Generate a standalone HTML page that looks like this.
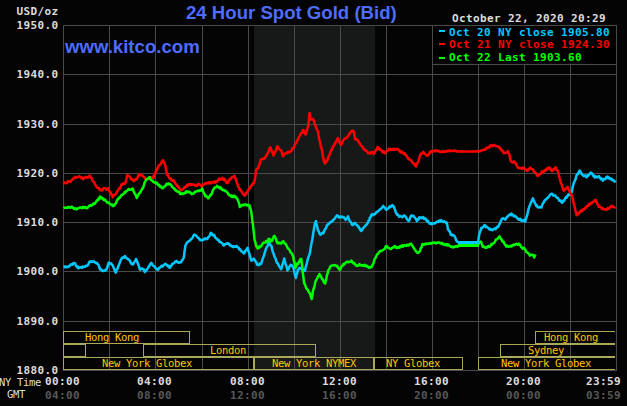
<!DOCTYPE html><html><head><meta charset="utf-8"><title>24 Hour Spot Gold (Bid)</title><style>
html,body{margin:0;padding:0;background:#040404;}
#c{position:relative;width:627px;height:406px;background:#040404;overflow:hidden;font-family:"DejaVu Sans Mono","Liberation Mono",monospace;}
#c span{position:absolute;white-space:pre;line-height:1;}
.m{font-size:11px;letter-spacing:0.38px;font-weight:bold;color:#dcdcdc;}
.g{font-size:11px;letter-spacing:0.38px;font-weight:bold;color:#585858;}
.s{font-size:10.5px;letter-spacing:-0.32px;color:#dcdcdc;}
.k{font-size:10.5px;letter-spacing:-0.32px;color:#ffc400;}
.t{font-family:"Liberation Sans",sans-serif;font-weight:bold;color:#4e6cff;}

</style></head><body><div id="c">
<svg width="627" height="406" viewBox="0 0 627 406" style="position:absolute;left:0;top:0"><rect x="254" y="25" width="121" height="345" fill="#171918" shape-rendering="crispEdges"/><g fill="#4a4a4a" shape-rendering="crispEdges"><rect x="63" y="25" width="1" height="346"/><rect x="109" y="25" width="1" height="346"/><rect x="155" y="25" width="1" height="346"/><rect x="202" y="25" width="1" height="346"/><rect x="248" y="25" width="1" height="346"/><rect x="294" y="25" width="1" height="346"/><rect x="340" y="25" width="1" height="346"/><rect x="386" y="25" width="1" height="346"/><rect x="432" y="25" width="1" height="346"/><rect x="478" y="25" width="1" height="346"/><rect x="524" y="25" width="1" height="346"/><rect x="570" y="25" width="1" height="346"/><rect x="616" y="25" width="1" height="346"/><rect x="63" y="25" width="554" height="1"/><rect x="63" y="74" width="554" height="1"/><rect x="63" y="124" width="554" height="1"/><rect x="63" y="173" width="554" height="1"/><rect x="63" y="222" width="554" height="1"/><rect x="63" y="271" width="554" height="1"/><rect x="63" y="321" width="554" height="1"/><rect x="63" y="370" width="554" height="1"/></g><rect x="432.5" y="25.5" width="184" height="39" fill="#000" stroke="#4a4a4a" shape-rendering="crispEdges"/><g fill="#a9a95c" shape-rendering="crispEdges"><rect x="63" y="331" width="127" height="1"/><rect x="63" y="343" width="127" height="1"/><rect x="63" y="331" width="1" height="13"/><rect x="189" y="331" width="1" height="13"/><rect x="63" y="344" width="23" height="1"/><rect x="63" y="356" width="23" height="1"/><rect x="63" y="344" width="1" height="13"/><rect x="85" y="344" width="1" height="13"/><rect x="143" y="344" width="173" height="1"/><rect x="143" y="356" width="173" height="1"/><rect x="143" y="344" width="1" height="13"/><rect x="315" y="344" width="1" height="13"/><rect x="63" y="357" width="191" height="1"/><rect x="63" y="369" width="191" height="1"/><rect x="63" y="357" width="1" height="13"/><rect x="253" y="357" width="1" height="13"/><rect x="254" y="357" width="120" height="1"/><rect x="254" y="369" width="120" height="1"/><rect x="254" y="357" width="1" height="13"/><rect x="373" y="357" width="1" height="13"/><rect x="374" y="357" width="89" height="1"/><rect x="374" y="369" width="89" height="1"/><rect x="374" y="357" width="1" height="13"/><rect x="462" y="357" width="1" height="13"/><rect x="478" y="357" width="137" height="1"/><rect x="478" y="369" width="137" height="1"/><rect x="478" y="357" width="1" height="13"/><rect x="500" y="344" width="115" height="1"/><rect x="500" y="356" width="115" height="1"/><rect x="500" y="344" width="1" height="13"/><rect x="535" y="331" width="80" height="1"/><rect x="535" y="343" width="80" height="1"/><rect x="535" y="331" width="1" height="13"/></g><path d="M63.5,266.6 L64.2,266.4 L65.0,267.3 L65.8,266.5 L66.5,267.3 L67.2,267.1 L68.0,266.7 L68.6,266.9 L69.3,265.7 L69.9,265.9 L70.6,264.8 L71.2,264.3 L71.9,264.5 L72.5,264.7 L73.2,263.2 L73.9,263.0 L74.5,263.2 L75.2,263.3 L76.0,265.9 L76.6,266.1 L77.3,267.5 L77.9,266.5 L78.6,268.3 L79.2,267.9 L79.9,267.4 L80.5,267.2 L81.2,267.2 L81.9,267.8 L82.5,266.6 L83.2,267.0 L83.9,267.0 L84.5,266.5 L85.2,266.7 L85.9,265.8 L86.5,265.7 L87.2,265.8 L88.0,265.1 L88.8,263.2 L89.6,261.5 L90.3,261.9 L90.9,261.6 L91.6,261.3 L92.3,262.1 L92.9,261.9 L93.6,261.1 L94.3,261.9 L94.9,262.2 L95.6,263.1 L96.3,263.1 L96.9,262.7 L97.6,264.2 L98.4,264.7 L99.2,267.0 L100.0,269.4 L100.8,269.1 L101.6,270.4 L102.4,270.4 L103.1,271.1 L103.7,271.0 L104.4,270.4 L105.1,270.6 L105.7,269.5 L106.4,269.8 L107.2,267.4 L108.0,265.0 L108.8,262.5 L109.6,263.4 L110.4,263.8 L111.2,263.4 L112.0,265.0 L112.8,265.4 L113.6,267.7 L114.3,269.2 L115.0,271.4 L115.7,272.7 L116.4,270.5 L117.1,269.2 L117.7,268.3 L118.4,265.8 L119.0,264.9 L119.7,262.9 L120.3,261.2 L121.0,259.5 L121.6,259.0 L122.2,257.6 L122.9,257.4 L123.5,257.3 L124.2,257.7 L124.8,256.0 L125.4,257.0 L126.1,257.5 L126.7,258.5 L127.4,258.7 L128.0,259.2 L128.7,259.2 L129.4,260.3 L130.1,261.1 L130.7,262.9 L131.4,263.9 L132.1,263.5 L132.8,264.5 L133.4,263.5 L134.1,262.3 L134.7,261.6 L135.4,260.7 L136.0,259.0 L136.8,260.5 L137.6,263.0 L138.4,264.8 L139.2,267.1 L140.0,269.7 L140.8,269.0 L141.6,268.5 L142.4,268.4 L143.2,269.5 L144.0,269.6 L144.8,272.0 L145.4,271.2 L146.1,270.7 L146.7,270.0 L147.4,268.7 L148.0,268.0 L148.6,266.6 L149.3,266.5 L149.9,264.6 L150.6,263.7 L151.2,262.9 L152.0,263.9 L152.8,265.3 L153.6,265.9 L154.2,266.4 L154.9,267.2 L155.5,267.7 L156.2,268.7 L156.8,268.7 L157.5,270.0 L158.2,269.6 L158.9,268.3 L159.5,267.8 L160.2,267.4 L160.9,266.8 L161.5,265.9 L162.2,266.5 L162.8,266.4 L163.5,265.2 L164.1,264.9 L164.8,264.0 L165.4,263.7 L166.1,264.5 L166.8,264.8 L167.5,266.2 L168.1,265.6 L168.8,265.8 L169.5,267.8 L170.2,267.5 L170.8,266.0 L171.5,265.6 L172.1,263.9 L172.8,263.7 L173.4,263.5 L174.0,263.0 L174.7,262.5 L175.3,261.5 L176.0,261.4 L176.6,260.9 L177.2,262.2 L177.9,262.1 L178.5,262.8 L179.2,262.4 L179.8,262.6 L180.5,262.6 L181.1,261.9 L181.8,260.8 L182.5,259.8 L183.1,258.8 L183.8,257.8 L184.6,251.0 L185.4,245.4 L186.1,244.4 L186.7,243.0 L187.4,242.2 L188.1,241.8 L188.7,241.0 L189.4,240.9 L190.1,240.5 L190.8,238.9 L191.5,238.9 L192.1,238.2 L192.8,237.3 L193.5,235.6 L194.2,234.6 L194.8,234.9 L195.5,235.2 L196.1,235.5 L196.8,236.5 L197.4,237.2 L198.0,237.9 L198.7,238.0 L199.3,239.1 L200.0,240.0 L200.6,239.6 L201.3,240.3 L201.9,240.5 L202.6,240.1 L203.3,239.8 L203.9,239.2 L204.6,238.5 L205.2,239.3 L205.9,238.4 L206.5,239.0 L207.2,239.1 L207.8,238.0 L208.5,236.8 L209.2,236.5 L210.0,235.0 L210.7,232.9 L211.4,233.2 L212.1,233.7 L212.8,235.3 L213.5,235.6 L214.2,234.9 L214.9,236.9 L215.5,238.0 L216.2,238.3 L216.9,238.7 L217.5,239.8 L218.2,240.0 L218.8,240.1 L219.5,242.0 L220.1,241.8 L220.8,241.9 L221.4,242.9 L222.2,243.1 L223.0,244.7 L223.8,245.6 L224.5,244.4 L225.1,244.2 L225.8,244.0 L226.5,243.6 L227.1,243.9 L227.8,243.1 L228.5,243.8 L229.1,243.8 L229.8,245.5 L230.5,245.1 L231.1,245.7 L231.8,246.3 L232.5,246.9 L233.2,246.2 L233.9,247.1 L234.5,246.5 L235.2,246.6 L235.9,246.7 L236.6,245.9 L237.3,247.2 L237.9,247.4 L238.6,247.7 L239.3,249.5 L239.9,249.1 L240.6,250.2 L241.2,251.2 L241.9,251.6 L242.5,251.8 L243.2,252.8 L243.8,253.5 L244.6,252.8 L245.3,250.7 L246.1,250.4 L246.8,248.8 L247.6,247.8 L248.3,250.7 L248.9,252.3 L249.6,254.5 L250.2,256.9 L250.8,259.3 L251.4,260.7 L252.2,260.2 L253.0,259.3 L253.8,258.6 L254.5,259.9 L255.1,260.6 L255.8,261.8 L256.5,262.7 L257.1,264.5 L257.8,265.1 L258.4,265.1 L259.1,264.9 L259.7,263.5 L260.4,263.6 L261.0,263.9 L261.8,261.9 L262.6,258.9 L263.4,257.0 L264.0,255.4 L264.7,252.8 L265.3,250.9 L266.0,248.6 L266.6,247.5 L267.4,246.1 L268.2,244.6 L269.0,241.8 L269.8,244.1 L270.6,245.3 L271.4,245.8 L272.2,249.7 L273.0,252.5 L273.8,254.0 L274.4,256.7 L275.1,257.4 L275.7,259.2 L276.4,261.6 L277.0,262.9 L277.7,263.1 L278.3,264.7 L279.0,266.0 L279.7,266.9 L280.3,267.9 L281.0,269.3 L281.6,267.9 L282.3,264.7 L282.9,263.4 L283.6,261.2 L284.2,258.4 L284.8,261.0 L285.5,263.6 L286.1,265.5 L286.8,266.8 L287.4,270.4 L288.1,269.3 L288.7,268.8 L289.4,266.6 L290.1,266.0 L290.7,264.9 L291.4,265.2 L292.2,265.8 L293.0,266.9 L293.8,268.7 L294.5,272.7 L295.2,275.7 L295.9,278.0 L296.5,274.9 L297.2,273.2 L297.8,269.7 L298.4,269.6 L299.1,268.3 L299.7,267.9 L300.4,268.6 L301.0,267.9 L301.7,267.7 L302.3,269.5 L303.0,269.4 L303.7,270.1 L304.3,269.3 L305.0,271.0 L305.8,266.5 L306.6,264.6 L307.4,260.7 L308.2,257.9 L309.0,255.6 L309.8,253.5 L310.6,248.2 L311.4,243.7 L312.2,240.0 L313.0,234.8 L313.8,229.8 L314.6,225.1 L315.2,222.9 L315.9,221.1 L316.5,224.0 L317.2,226.6 L317.8,230.0 L318.6,231.1 L319.4,233.3 L320.2,234.7 L320.8,234.5 L321.5,233.5 L322.1,233.4 L322.8,232.5 L323.4,233.2 L324.1,231.5 L324.7,229.6 L325.4,228.8 L326.1,228.2 L326.7,225.5 L327.4,225.3 L328.1,224.1 L328.8,223.6 L329.5,223.6 L330.1,222.3 L330.8,222.0 L331.5,221.7 L332.2,221.6 L332.9,219.9 L333.6,220.0 L334.3,219.1 L334.9,218.3 L335.6,217.2 L336.3,216.4 L337.0,215.3 L337.6,215.8 L338.3,216.1 L338.9,217.5 L339.6,217.1 L340.2,217.4 L340.9,216.6 L341.7,217.2 L342.4,216.6 L343.0,217.1 L343.7,217.3 L344.3,218.0 L345.0,218.9 L345.6,219.9 L346.4,218.4 L347.2,217.8 L348.0,216.4 L348.8,219.1 L349.6,220.8 L350.4,221.7 L351.2,222.4 L352.0,224.8 L352.8,225.0 L353.6,224.4 L354.4,223.1 L355.2,223.0 L355.8,224.0 L356.5,224.8 L357.1,225.1 L357.8,226.4 L358.4,226.4 L359.1,227.9 L359.9,228.8 L360.6,230.4 L361.3,231.0 L362.0,229.8 L362.6,229.1 L363.3,227.9 L364.0,227.3 L364.7,226.4 L365.3,226.0 L366.0,225.1 L366.7,224.3 L367.3,223.8 L368.0,222.2 L368.6,220.7 L369.3,220.3 L369.9,217.5 L370.6,217.0 L371.2,215.4 L371.9,214.2 L372.5,215.2 L373.2,215.0 L373.9,214.3 L374.5,214.2 L375.2,214.1 L375.9,212.4 L376.5,212.3 L377.2,211.6 L377.9,211.5 L378.5,210.8 L379.2,210.1 L379.9,209.3 L380.5,209.3 L381.2,208.4 L381.9,208.0 L382.5,206.8 L383.2,205.9 L383.8,206.7 L384.5,207.6 L385.1,207.8 L385.8,209.6 L386.4,209.7 L387.0,209.3 L387.7,208.8 L388.3,208.4 L389.0,207.7 L389.6,206.4 L390.3,207.2 L391.1,206.5 L391.8,205.6 L392.5,205.2 L393.1,206.3 L393.8,206.3 L394.4,208.4 L395.2,210.4 L396.0,212.9 L396.6,213.7 L397.3,214.9 L397.9,214.6 L398.6,215.9 L399.2,216.8 L399.8,216.2 L400.5,216.1 L401.1,216.4 L401.8,216.9 L402.4,217.2 L403.2,216.2 L404.0,215.4 L404.8,215.6 L405.6,216.8 L406.4,218.0 L407.1,219.6 L407.8,219.7 L408.4,220.9 L409.1,220.8 L409.8,218.8 L410.5,217.0 L411.2,215.5 L412.0,215.8 L412.8,216.0 L413.6,215.7 L414.2,216.9 L414.9,217.7 L415.5,218.6 L416.2,219.0 L416.8,221.1 L417.4,219.4 L418.1,220.0 L418.7,219.3 L419.4,217.2 L420.0,217.2 L420.6,217.9 L421.3,218.2 L421.9,217.4 L422.6,217.2 L423.2,217.1 L423.8,218.8 L424.5,218.1 L425.1,219.2 L425.8,218.9 L426.4,220.0 L427.0,221.4 L427.7,220.7 L428.3,222.4 L429.0,222.6 L429.6,223.8 L430.3,223.7 L431.1,223.1 L431.8,224.3 L432.5,223.8 L433.3,223.2 L434.0,223.3 L434.6,223.6 L435.3,223.1 L435.9,222.5 L436.6,221.8 L437.2,221.7 L437.9,221.4 L438.5,222.0 L439.2,220.5 L439.9,221.4 L440.5,221.4 L441.2,220.0 L441.9,221.5 L442.6,221.4 L443.3,222.0 L444.0,221.2 L444.7,221.6 L445.4,221.9 L446.1,223.1 L446.8,222.6 L447.4,225.7 L447.9,229.3 L448.6,230.2 L449.4,231.1 L450.1,232.4 L450.8,234.7 L451.4,234.2 L452.1,235.5 L452.7,234.8 L453.4,235.1 L454.0,235.8 L454.8,236.7 L455.6,238.5 L456.4,240.8 L457.2,241.4 L458.0,242.0 L458.8,242.2 L459.5,242.2 L460.2,242.2 L460.9,242.2 L461.6,242.2 L462.4,242.2 L463.1,242.2 L463.8,242.2 L464.5,242.2 L465.2,242.2 L465.9,242.2 L466.6,242.2 L467.3,242.2 L468.0,242.2 L468.8,242.2 L469.5,242.2 L470.2,242.2 L470.9,242.2 L471.6,242.2 L472.3,242.2 L473.0,242.2 L473.7,242.2 L474.4,242.2 L475.2,242.2 L475.9,242.2 L476.6,242.2 L477.3,242.2 L478.0,242.4 L478.6,238.5 L479.3,234.1 L479.9,231.9 L480.6,230.6 L481.2,227.9 L481.8,228.3 L482.5,227.2 L483.1,227.1 L483.8,226.3 L484.4,225.1 L485.0,225.2 L485.7,227.0 L486.3,226.2 L487.0,227.3 L487.6,227.5 L488.3,227.8 L489.0,228.9 L489.7,229.6 L490.3,228.8 L491.0,229.8 L491.7,229.5 L492.4,230.3 L493.0,229.7 L493.7,229.0 L494.3,228.7 L495.0,228.5 L495.6,229.2 L496.3,227.9 L496.9,226.8 L497.6,227.3 L498.3,226.7 L498.9,225.2 L499.6,224.0 L500.4,222.2 L501.2,220.2 L502.0,218.7 L502.6,218.3 L503.3,218.6 L503.9,218.6 L504.6,219.1 L505.2,219.6 L505.8,218.8 L506.5,217.6 L507.1,216.9 L507.8,216.5 L508.4,215.6 L509.0,215.2 L509.7,214.5 L510.3,214.5 L511.0,215.3 L511.6,213.6 L512.3,214.7 L513.0,215.3 L513.7,216.2 L514.3,215.6 L515.0,216.1 L515.7,216.5 L516.4,217.2 L517.1,217.7 L517.8,219.0 L518.5,219.2 L519.1,219.7 L519.8,218.7 L520.5,219.1 L521.2,220.6 L521.9,221.0 L522.5,220.5 L523.2,220.7 L523.9,219.9 L524.5,220.6 L525.2,221.6 L526.0,218.7 L526.8,216.1 L527.6,213.6 L528.2,210.3 L528.9,208.0 L529.5,206.0 L530.2,204.5 L530.8,202.7 L531.5,201.7 L532.2,199.9 L532.9,198.3 L533.6,200.2 L534.2,201.4 L534.9,203.2 L535.6,204.1 L536.2,205.8 L536.9,205.5 L537.5,207.2 L538.2,207.4 L538.8,207.4 L539.5,207.0 L540.1,207.1 L540.8,207.5 L541.5,207.5 L542.2,205.0 L543.0,203.3 L543.7,202.4 L544.4,200.9 L545.0,200.1 L545.7,199.4 L546.3,199.5 L547.0,198.1 L547.6,198.1 L548.3,197.1 L549.0,196.7 L549.8,195.0 L550.5,194.2 L551.2,193.9 L551.9,193.8 L552.6,194.2 L553.3,195.6 L554.0,195.5 L554.7,195.4 L555.3,195.5 L556.0,196.8 L556.7,197.6 L557.3,197.7 L558.0,198.0 L558.7,199.4 L559.3,200.6 L560.0,200.2 L560.7,200.7 L561.3,201.9 L562.0,202.8 L562.6,202.3 L563.3,200.6 L563.9,200.7 L564.6,199.7 L565.2,198.4 L565.8,197.2 L566.5,197.8 L567.1,196.0 L567.8,196.1 L568.4,194.5 L569.2,194.3 L570.0,195.0 L570.8,194.1 L571.6,192.2 L572.4,188.5 L573.2,185.1 L573.8,183.2 L574.5,181.6 L575.1,180.1 L575.8,178.6 L576.4,175.4 L577.0,174.9 L577.7,173.6 L578.3,173.9 L579.0,171.6 L579.6,170.5 L580.2,171.2 L580.9,172.4 L581.5,173.9 L582.2,174.6 L582.8,175.1 L583.5,175.8 L584.1,176.1 L584.8,175.5 L585.5,175.6 L586.1,177.1 L586.8,177.2 L587.5,175.4 L588.1,175.8 L588.8,174.8 L589.5,174.1 L590.1,173.4 L590.8,172.6 L591.5,172.9 L592.1,174.0 L592.8,174.7 L593.5,176.3 L594.1,175.6 L594.8,177.5 L595.5,176.3 L596.1,176.6 L596.8,177.3 L597.5,177.3 L598.1,176.7 L598.8,176.1 L599.5,177.3 L600.1,177.7 L600.8,179.1 L601.5,178.4 L602.1,179.2 L602.8,180.6 L603.5,178.9 L604.2,179.1 L604.9,179.3 L605.5,178.9 L606.2,177.3 L606.9,176.9 L607.6,176.6 L608.3,178.3 L609.0,177.5 L609.7,178.6 L610.3,179.2 L611.0,178.6 L611.7,178.8 L612.4,180.2 L613.0,180.3 L613.7,180.3 L614.3,181.6 L615.0,181.5 L615.6,182.4" fill="none" stroke="#00c8ff" stroke-width="2.5" stroke-linejoin="round" stroke-linecap="butt"/><path d="M63.5,182.9 L64.2,182.3 L65.0,183.3 L65.8,183.3 L66.5,182.6 L67.2,182.9 L68.0,181.2 L68.7,181.3 L69.3,181.4 L70.0,181.9 L70.7,181.7 L71.3,180.5 L72.0,180.0 L72.8,179.3 L73.6,178.5 L74.4,178.2 L75.1,176.8 L75.8,177.7 L76.5,177.4 L77.1,177.4 L77.8,177.2 L78.5,176.7 L79.2,176.1 L79.9,176.5 L80.5,177.0 L81.2,178.1 L81.9,177.3 L82.5,177.9 L83.2,179.2 L83.9,178.1 L84.6,177.5 L85.3,177.1 L86.0,177.6 L86.8,176.9 L87.5,177.6 L88.2,177.2 L88.9,177.0 L89.6,175.5 L90.4,176.5 L91.2,177.7 L92.0,179.6 L92.7,181.0 L93.4,181.6 L94.1,182.3 L94.7,183.6 L95.4,184.9 L96.1,186.1 L96.8,187.2 L97.5,187.9 L98.2,188.2 L98.9,187.9 L99.5,189.6 L100.2,189.3 L100.9,190.3 L101.6,190.6 L102.4,190.4 L103.2,188.7 L104.0,188.0 L104.8,188.3 L105.6,188.4 L106.4,189.8 L107.2,188.9 L108.0,188.1 L108.7,189.4 L109.4,191.5 L110.1,191.8 L110.7,192.5 L111.4,194.6 L112.1,195.5 L112.8,197.2 L113.5,195.1 L114.2,195.0 L114.9,194.9 L115.5,194.2 L116.2,193.6 L116.9,191.6 L117.6,191.3 L118.3,189.8 L118.9,188.7 L119.6,188.8 L120.3,186.9 L120.9,186.3 L121.6,184.2 L122.3,184.7 L122.9,183.8 L123.6,183.2 L124.3,183.8 L124.9,183.8 L125.6,182.2 L126.4,179.0 L127.2,175.0 L127.8,175.0 L128.5,175.9 L129.1,176.1 L129.8,176.9 L130.4,177.6 L131.0,178.8 L131.7,179.5 L132.3,179.4 L133.0,179.8 L133.6,180.9 L134.2,181.0 L134.9,179.7 L135.5,179.5 L136.2,178.8 L136.8,179.3 L137.5,177.8 L138.2,175.9 L138.8,174.8 L139.5,174.1 L140.2,174.8 L141.0,175.4 L141.7,174.9 L142.5,175.4 L143.2,176.7 L143.8,176.9 L144.5,177.3 L145.1,178.0 L145.8,179.7 L146.4,179.3 L147.0,179.4 L147.7,178.7 L148.3,178.5 L149.0,178.9 L149.6,178.8 L150.3,177.6 L150.9,177.2 L151.6,178.0 L152.3,177.0 L152.9,176.5 L153.6,177.8 L154.4,174.9 L155.2,173.4 L156.0,170.6 L156.8,170.2 L157.5,168.3 L158.2,166.7 L159.0,165.2 L159.7,165.1 L160.3,164.4 L161.0,163.9 L161.7,161.6 L162.3,161.5 L163.0,160.2 L163.8,162.3 L164.6,163.6 L165.4,165.7 L166.2,170.0 L167.0,174.7 L167.6,174.3 L168.3,175.9 L168.9,177.4 L169.6,178.6 L170.2,178.3 L170.9,178.6 L171.5,180.3 L172.2,180.8 L172.9,180.4 L173.5,180.1 L174.2,181.9 L174.8,182.0 L175.5,183.8 L176.1,184.3 L176.8,185.6 L177.4,185.5 L178.1,187.3 L178.7,187.2 L179.4,188.2 L180.1,189.8 L180.7,190.5 L181.4,190.3 L182.0,189.7 L182.7,189.4 L183.3,188.9 L184.0,188.1 L184.6,187.0 L185.2,186.7 L185.9,186.9 L186.5,186.6 L187.2,184.7 L187.8,185.0 L188.5,185.2 L189.2,184.0 L189.9,185.2 L190.5,184.0 L191.2,184.7 L191.9,184.6 L192.6,184.6 L193.3,184.4 L193.9,184.8 L194.6,185.3 L195.3,185.3 L195.9,186.0 L196.6,185.9 L197.4,185.2 L198.2,183.8 L199.0,184.1 L199.8,184.6 L200.6,184.9 L201.4,186.4 L202.1,186.1 L202.8,185.2 L203.5,184.5 L204.1,184.6 L204.8,183.7 L205.5,183.3 L206.2,183.5 L206.9,182.8 L207.6,183.3 L208.3,183.3 L208.9,182.4 L209.6,183.2 L210.3,182.2 L211.0,183.2 L211.7,183.1 L212.4,182.6 L213.1,181.7 L213.7,182.3 L214.4,182.0 L215.1,182.8 L215.8,181.4 L216.4,182.0 L217.1,181.6 L217.7,180.6 L218.4,180.2 L219.0,178.6 L219.6,179.8 L220.3,178.8 L220.9,179.5 L221.6,179.3 L222.2,178.0 L223.0,179.3 L223.8,179.9 L224.6,178.9 L225.4,180.6 L226.2,182.5 L227.0,182.8 L227.6,183.0 L228.3,181.1 L228.9,181.1 L229.6,179.1 L230.2,178.8 L230.9,179.1 L231.5,177.5 L232.2,177.2 L232.9,177.2 L233.5,176.5 L234.2,175.7 L235.0,177.5 L235.8,179.1 L236.6,181.9 L237.4,183.9 L238.2,186.6 L239.0,187.9 L239.6,189.7 L240.3,189.4 L240.9,190.8 L241.6,191.8 L242.2,192.2 L243.0,194.1 L243.8,194.6 L244.6,195.7 L245.2,195.3 L245.9,193.0 L246.5,193.5 L247.2,192.0 L247.8,190.6 L248.4,190.3 L249.1,188.5 L249.7,188.7 L250.4,187.1 L251.0,185.8 L251.7,185.6 L252.4,184.3 L253.1,183.1 L253.8,183.2 L254.5,181.3 L255.3,176.5 L256.2,169.6 L257.0,169.1 L257.8,168.5 L258.6,166.7 L259.4,164.7 L260.2,162.0 L261.0,159.4 L261.7,159.1 L262.3,158.8 L263.0,159.2 L263.7,158.5 L264.3,158.2 L265.0,158.4 L265.6,156.3 L266.3,155.4 L266.9,155.2 L267.6,153.2 L268.2,152.2 L268.9,150.9 L269.6,148.6 L270.3,147.2 L270.9,148.6 L271.6,150.7 L272.2,152.3 L272.9,153.3 L273.5,155.6 L274.2,153.9 L274.8,152.0 L275.5,151.8 L276.2,149.3 L276.8,147.8 L277.5,146.3 L278.2,147.9 L278.9,149.0 L279.6,149.6 L280.3,149.7 L281.0,150.2 L281.7,151.7 L282.3,154.6 L283.0,156.3 L283.7,155.1 L284.4,154.7 L285.1,153.5 L285.8,153.4 L286.5,153.0 L287.2,152.2 L287.9,153.1 L288.5,151.7 L289.2,152.4 L289.9,152.1 L290.6,151.8 L291.3,150.4 L291.9,150.5 L292.6,148.2 L293.3,148.0 L293.9,147.6 L294.6,145.2 L295.2,144.0 L295.9,143.4 L296.5,142.0 L297.2,140.9 L297.8,139.9 L298.6,137.5 L299.4,136.4 L300.2,135.1 L300.9,133.3 L301.6,133.2 L302.3,131.7 L303.0,130.1 L303.6,130.2 L304.2,132.8 L304.9,133.8 L305.5,134.5 L306.2,133.0 L306.9,130.5 L307.5,128.2 L308.2,126.0 L308.9,119.8 L309.5,113.1 L310.3,119.1 L311.0,119.6 L311.6,119.3 L312.3,119.4 L313.0,118.9 L313.8,120.6 L314.6,123.5 L315.4,125.7 L316.2,128.1 L317.0,129.6 L317.8,131.0 L318.6,135.6 L319.4,140.1 L320.2,142.9 L321.0,147.2 L321.8,149.0 L322.6,154.2 L323.4,159.0 L324.2,161.5 L325.0,163.6 L325.8,162.4 L326.6,160.8 L327.4,160.8 L328.0,158.2 L328.7,156.3 L329.3,155.6 L330.0,153.4 L330.6,151.7 L331.2,150.4 L331.9,149.6 L332.5,147.5 L333.2,146.8 L333.8,145.3 L334.5,144.5 L335.1,142.8 L335.8,142.2 L336.5,140.8 L337.1,139.4 L337.8,138.1 L338.4,140.2 L339.1,140.8 L339.7,143.6 L340.4,143.8 L341.0,145.0 L341.8,142.8 L342.6,141.7 L343.4,140.2 L344.1,139.2 L344.9,138.4 L345.6,137.9 L346.4,138.3 L347.0,137.4 L347.7,136.7 L348.3,136.0 L349.0,134.1 L349.6,134.1 L350.4,132.4 L351.2,131.8 L352.0,130.5 L352.7,131.4 L353.3,130.9 L354.0,133.0 L354.6,136.3 L355.2,139.5 L355.9,138.7 L356.5,139.4 L357.2,139.8 L357.9,140.2 L358.5,142.0 L359.2,142.5 L359.8,143.3 L360.5,144.8 L361.1,145.6 L361.8,146.1 L362.4,147.0 L363.0,147.6 L363.7,149.3 L364.3,149.0 L365.0,149.9 L365.6,150.7 L366.2,150.6 L366.9,151.5 L367.5,152.1 L368.2,153.3 L368.8,153.3 L369.4,152.9 L370.1,153.6 L370.7,152.5 L371.4,152.8 L372.0,152.1 L372.8,152.2 L373.6,153.9 L374.3,152.8 L374.9,152.3 L375.6,150.6 L376.3,150.1 L376.9,148.7 L377.6,147.1 L378.2,148.7 L378.9,148.0 L379.5,149.7 L380.2,149.2 L380.8,149.5 L381.5,150.3 L382.1,151.7 L382.8,152.5 L383.5,151.4 L384.1,152.7 L384.8,153.2 L385.5,153.0 L386.1,151.4 L386.8,151.2 L387.5,150.3 L388.1,150.4 L388.8,148.8 L389.5,150.0 L390.1,149.0 L390.8,149.0 L391.5,149.9 L392.1,149.6 L392.8,149.1 L393.5,149.8 L394.1,148.7 L394.8,149.7 L395.5,149.3 L396.1,149.3 L396.8,148.9 L397.5,149.0 L398.1,149.6 L398.8,150.1 L399.5,151.5 L400.1,150.7 L400.8,152.5 L401.5,151.4 L402.1,152.0 L402.8,152.3 L403.5,153.6 L404.1,153.2 L404.8,153.3 L405.4,155.0 L406.1,154.9 L406.7,156.1 L407.4,157.2 L408.0,158.4 L408.7,159.0 L409.3,159.4 L410.0,159.5 L410.7,160.1 L411.3,160.4 L412.0,162.0 L412.7,162.6 L413.3,163.5 L414.0,163.4 L414.7,164.6 L415.3,165.9 L416.0,166.4 L416.8,164.0 L417.6,162.8 L418.4,161.8 L419.2,158.4 L420.0,155.9 L420.8,153.7 L421.6,153.8 L422.4,153.5 L423.2,151.8 L423.9,152.5 L424.5,153.2 L425.2,154.0 L425.9,154.9 L426.5,154.9 L427.2,155.8 L427.8,154.8 L428.5,155.2 L429.1,153.9 L429.8,152.1 L430.4,152.6 L431.1,150.9 L431.8,151.1 L432.5,151.7 L433.2,151.1 L433.9,151.1 L434.6,150.7 L435.3,150.5 L435.9,151.3 L436.6,150.5 L437.3,150.8 L438.0,151.2 L438.7,150.7 L439.4,151.4 L440.1,152.1 L440.7,152.0 L441.4,151.8 L442.1,152.0 L442.8,151.8 L443.5,151.2 L444.2,151.8 L444.9,151.3 L445.5,151.7 L446.2,151.8 L446.9,150.9 L447.6,151.0 L448.3,151.2 L449.0,150.6 L449.7,150.3 L450.4,151.0 L451.2,151.2 L451.9,150.9 L452.6,150.8 L453.3,150.9 L454.0,150.6 L454.6,150.7 L455.3,150.7 L455.9,150.7 L456.6,151.4 L457.2,151.4 L457.9,151.4 L458.6,151.4 L459.3,151.4 L460.0,151.4 L460.7,151.4 L461.4,151.4 L462.1,151.4 L462.7,151.4 L463.4,151.4 L464.1,151.4 L464.8,151.4 L465.5,151.4 L466.2,151.4 L466.9,151.4 L467.6,151.4 L468.3,151.4 L469.0,151.4 L469.7,151.4 L470.4,151.4 L471.1,151.4 L471.8,151.4 L472.5,151.4 L473.1,151.4 L473.8,151.4 L474.5,151.4 L475.2,151.4 L475.9,151.4 L476.6,151.4 L477.3,151.4 L478.0,150.8 L478.7,151.1 L479.4,151.5 L480.1,151.3 L480.7,151.0 L481.4,150.2 L482.1,150.3 L482.8,150.2 L483.5,150.1 L484.1,149.5 L484.8,149.5 L485.5,149.6 L486.1,148.0 L486.8,148.4 L487.5,148.2 L488.1,147.2 L488.8,147.0 L489.5,147.4 L490.1,145.5 L490.8,145.9 L491.4,145.2 L492.1,146.1 L492.7,146.2 L493.4,145.4 L494.0,144.7 L494.7,145.6 L495.4,145.7 L496.1,146.2 L496.7,146.1 L497.4,146.5 L498.1,146.9 L498.8,146.6 L499.4,147.3 L500.1,148.9 L500.7,148.5 L501.4,150.1 L502.0,150.4 L502.6,151.7 L503.3,151.3 L503.9,153.3 L504.6,152.9 L505.2,153.1 L506.0,152.8 L506.8,152.4 L507.6,151.1 L508.2,152.7 L508.9,153.6 L509.5,154.9 L510.1,158.0 L510.8,161.4 L511.5,161.4 L512.1,162.2 L512.8,162.5 L513.5,161.8 L514.1,161.4 L514.8,162.3 L515.6,163.3 L516.4,164.7 L517.2,166.3 L517.9,167.6 L518.5,167.9 L519.2,167.9 L519.9,167.9 L520.5,168.3 L521.2,168.1 L522.0,168.9 L522.8,167.5 L523.6,167.6 L524.2,168.6 L524.9,169.3 L525.5,169.4 L526.2,169.9 L526.8,171.0 L527.4,169.7 L528.1,170.3 L528.7,168.9 L529.4,169.1 L530.0,167.6 L530.6,168.3 L531.3,168.6 L531.9,169.3 L532.6,169.4 L533.2,169.6 L534.0,171.7 L534.7,171.9 L535.5,172.8 L536.2,173.8 L537.0,175.0 L537.7,175.9 L538.4,175.6 L539.1,174.9 L539.9,173.8 L540.6,174.0 L541.3,173.2 L542.0,171.3 L542.7,172.2 L543.3,171.9 L544.0,171.4 L544.7,170.0 L545.3,170.8 L546.0,170.1 L546.6,168.7 L547.3,168.2 L547.9,169.3 L548.6,168.4 L549.2,167.3 L550.0,168.2 L550.8,169.5 L551.6,170.8 L552.3,171.1 L552.9,169.8 L553.6,168.9 L554.3,169.5 L554.9,168.8 L555.6,167.2 L556.4,169.5 L557.2,170.2 L558.0,171.7 L558.8,174.7 L559.6,178.2 L560.4,181.3 L561.0,183.3 L561.7,184.2 L562.3,186.9 L563.0,188.5 L563.6,190.8 L564.3,189.8 L564.9,190.0 L565.6,189.0 L566.3,188.1 L566.9,187.6 L567.6,186.9 L568.4,189.3 L569.2,190.3 L570.0,192.7 L570.8,193.6 L571.6,195.5 L572.4,196.8 L573.2,200.6 L574.0,204.8 L574.8,207.2 L575.4,210.9 L576.1,212.7 L576.7,215.3 L577.4,214.7 L578.2,214.1 L578.9,212.6 L579.6,211.9 L580.3,212.3 L580.9,210.5 L581.6,211.0 L582.3,210.6 L582.9,209.2 L583.6,209.8 L584.3,209.2 L584.9,209.0 L585.6,207.3 L586.3,207.7 L586.9,206.3 L587.6,205.6 L588.3,205.8 L589.0,203.9 L589.7,204.6 L590.3,204.0 L591.0,203.1 L591.7,203.4 L592.4,202.2 L593.0,201.9 L593.7,201.5 L594.3,201.4 L595.0,200.0 L595.6,199.9 L596.2,201.2 L596.9,202.6 L597.5,204.4 L598.2,204.8 L598.8,206.9 L599.4,206.6 L600.1,207.0 L600.7,207.0 L601.4,207.7 L602.0,208.8 L602.6,208.6 L603.3,209.2 L603.9,208.9 L604.6,209.2 L605.2,209.6 L605.9,209.7 L606.5,209.5 L607.2,209.4 L607.9,207.9 L608.5,208.7 L609.2,208.6 L609.8,207.8 L610.5,206.6 L611.1,206.7 L611.8,205.9 L612.4,205.9 L613.0,207.2 L613.7,206.9 L614.3,207.1 L615.0,207.5 L615.6,207.2" fill="none" stroke="#ff0000" stroke-width="2.5" stroke-linejoin="round" stroke-linecap="butt"/><path d="M63.5,208.3 L64.2,207.8 L64.9,207.7 L65.6,207.7 L66.3,207.8 L67.0,207.6 L67.7,207.7 L68.4,206.9 L69.1,207.6 L69.8,207.3 L70.5,207.7 L71.2,206.7 L71.9,207.0 L72.6,207.0 L73.3,208.3 L74.0,208.8 L74.7,208.5 L75.4,208.3 L76.1,209.2 L76.8,209.4 L77.5,208.8 L78.1,208.1 L78.8,207.9 L79.5,207.9 L80.1,207.5 L80.8,207.5 L81.5,207.8 L82.2,208.3 L83.0,206.9 L83.7,207.7 L84.4,206.9 L85.1,207.0 L85.8,208.1 L86.6,207.7 L87.3,208.3 L88.0,207.5 L88.8,206.0 L89.6,205.8 L90.4,205.3 L91.1,205.7 L91.8,205.5 L92.5,204.5 L93.1,204.1 L93.8,203.4 L94.5,204.1 L95.2,203.1 L95.9,202.1 L96.6,201.0 L97.3,200.1 L97.9,200.2 L98.6,198.4 L99.3,198.9 L100.0,196.5 L100.7,198.2 L101.3,197.4 L102.0,197.6 L102.7,199.2 L103.3,198.8 L104.0,200.0 L104.7,199.6 L105.4,199.9 L106.1,201.5 L106.8,201.9 L107.5,202.7 L108.2,203.0 L108.9,202.4 L109.6,203.8 L110.3,204.3 L111.0,204.2 L111.7,205.3 L112.3,204.6 L113.0,206.1 L113.7,206.0 L114.4,205.2 L115.0,203.9 L115.7,203.7 L116.3,202.7 L117.0,200.2 L117.6,199.3 L118.3,199.3 L119.0,197.6 L119.7,198.0 L120.4,196.7 L121.2,195.3 L121.9,195.1 L122.6,194.7 L123.3,193.8 L124.0,193.5 L124.7,192.1 L125.4,192.5 L126.1,191.3 L126.7,191.1 L127.4,190.6 L128.1,189.6 L128.8,189.0 L129.5,189.7 L130.1,189.9 L130.8,189.7 L131.5,189.3 L132.1,188.9 L132.8,188.5 L133.5,191.3 L134.1,192.2 L134.8,193.7 L135.5,194.3 L136.1,196.0 L136.8,198.0 L137.5,196.7 L138.2,195.3 L138.9,193.8 L139.5,193.0 L140.2,192.7 L140.9,190.8 L141.6,190.3 L142.3,188.7 L143.0,187.7 L143.7,186.0 L144.3,183.7 L145.0,181.8 L145.7,180.7 L146.4,179.5 L147.2,178.9 L148.0,178.5 L148.8,177.8 L149.5,177.1 L150.1,179.1 L150.8,179.7 L151.5,180.5 L152.1,180.6 L152.8,180.8 L153.4,182.1 L154.1,182.3 L154.7,182.5 L155.4,183.1 L156.0,182.6 L156.8,182.7 L157.5,184.1 L158.2,185.1 L159.0,184.7 L159.7,186.1 L160.3,187.0 L161.0,186.4 L161.7,187.5 L162.3,188.2 L163.0,188.3 L163.6,187.1 L164.3,186.4 L164.9,186.4 L165.6,185.7 L166.2,184.3 L166.9,183.6 L167.5,184.6 L168.2,184.4 L168.9,183.4 L169.5,183.9 L170.2,184.2 L170.8,185.2 L171.5,185.6 L172.1,186.4 L172.8,187.6 L173.4,187.9 L174.1,188.4 L174.7,189.0 L175.4,190.3 L176.1,190.3 L176.7,191.2 L177.4,191.4 L178.1,192.0 L178.7,191.8 L179.4,192.1 L180.1,194.0 L180.7,193.4 L181.4,193.4 L182.0,194.1 L182.7,194.1 L183.3,193.0 L184.0,193.5 L184.6,193.0 L185.2,192.9 L185.9,191.7 L186.5,191.3 L187.2,192.5 L187.8,191.9 L188.5,191.6 L189.1,192.1 L189.8,192.0 L190.5,193.2 L191.1,193.0 L191.8,194.2 L192.5,193.7 L193.2,193.6 L193.9,193.6 L194.5,192.2 L195.2,191.6 L195.9,191.7 L196.6,191.4 L197.3,190.9 L198.0,190.5 L198.7,191.0 L199.4,191.1 L200.1,190.1 L200.8,190.6 L201.5,190.2 L202.2,188.5 L203.0,191.2 L203.8,192.8 L204.6,194.2 L205.3,196.1 L205.9,195.5 L206.6,196.5 L207.3,197.2 L207.9,198.2 L208.6,198.3 L209.2,196.9 L209.9,196.0 L210.5,194.6 L211.2,194.9 L211.8,194.0 L212.4,191.5 L213.1,189.9 L213.7,189.0 L214.4,187.8 L215.0,187.4 L215.6,187.4 L216.3,187.2 L216.9,185.9 L217.6,187.0 L218.2,186.8 L218.9,187.2 L219.5,188.2 L220.2,187.1 L220.9,187.7 L221.5,189.2 L222.2,189.9 L222.9,189.9 L223.5,189.7 L224.2,190.5 L224.9,191.2 L225.5,190.6 L226.2,191.3 L226.8,192.0 L227.5,192.6 L228.1,194.0 L228.8,194.3 L229.4,195.2 L230.0,195.2 L230.7,196.3 L231.3,195.5 L232.0,196.8 L232.6,196.2 L233.2,195.8 L233.9,197.1 L234.5,195.9 L235.2,196.9 L235.8,196.7 L236.6,198.4 L237.4,198.9 L238.2,201.1 L239.0,203.1 L239.8,207.0 L240.4,206.5 L241.1,205.9 L241.7,205.3 L242.4,204.8 L243.0,205.2 L243.7,204.7 L244.3,205.1 L245.0,204.4 L245.7,204.6 L246.3,204.4 L247.0,205.5 L247.6,205.4 L248.2,204.9 L248.9,206.2 L249.5,205.4 L250.1,208.0 L250.8,209.9 L251.4,212.4 L252.2,219.7 L253.0,225.3 L253.8,232.3 L254.6,240.0 L255.4,242.4 L256.2,246.0 L257.0,247.4 L257.7,248.5 L258.3,246.8 L259.0,247.8 L259.7,247.2 L260.3,246.2 L261.0,246.4 L261.6,245.2 L262.3,244.2 L262.9,243.2 L263.6,242.6 L264.2,242.7 L264.8,242.6 L265.5,242.5 L266.1,241.1 L266.8,241.3 L267.4,242.2 L268.2,239.3 L269.0,238.8 L269.8,239.2 L270.6,241.5 L271.4,241.1 L272.0,241.1 L272.7,239.1 L273.3,237.5 L274.0,236.0 L274.6,236.0 L275.4,237.8 L276.2,239.6 L277.0,242.3 L277.6,243.3 L278.3,242.4 L278.9,243.2 L279.6,242.7 L280.2,243.0 L280.8,243.6 L281.5,243.2 L282.1,242.1 L282.8,241.5 L283.4,241.2 L284.0,242.8 L284.7,243.4 L285.3,243.8 L286.0,244.4 L286.6,245.8 L287.2,247.1 L287.9,248.3 L288.5,249.1 L289.2,249.6 L289.8,250.5 L290.6,252.4 L291.4,252.8 L292.2,254.2 L293.0,256.0 L293.8,260.1 L294.6,263.1 L295.4,267.7 L296.0,266.8 L296.7,265.3 L297.3,263.5 L298.0,264.0 L298.6,262.4 L299.3,262.0 L300.0,260.0 L300.6,258.9 L301.3,258.9 L302.0,265.0 L302.6,271.5 L303.4,277.4 L304.2,283.4 L305.0,284.3 L305.8,287.0 L306.6,288.7 L307.2,289.6 L307.9,289.8 L308.5,291.5 L309.2,292.5 L309.8,293.4 L310.4,294.6 L311.1,297.4 L311.7,299.0 L312.4,295.6 L313.0,290.5 L313.8,288.6 L314.6,285.5 L315.4,281.6 L316.1,280.4 L316.7,279.2 L317.4,278.1 L318.1,276.0 L318.7,276.3 L319.4,274.0 L320.0,275.0 L320.7,275.9 L321.3,277.2 L322.0,279.2 L322.6,279.0 L323.2,280.3 L323.9,282.4 L324.5,282.8 L325.1,283.6 L325.7,281.4 L326.4,278.3 L327.0,275.0 L327.7,273.3 L328.3,270.3 L329.0,269.5 L329.6,268.4 L330.2,266.6 L330.9,265.9 L331.5,265.7 L332.2,265.7 L333.0,265.3 L333.7,265.1 L334.4,265.5 L335.1,265.1 L335.9,265.8 L336.6,266.3 L337.2,265.9 L337.9,267.4 L338.5,268.4 L339.2,268.3 L339.8,270.1 L340.4,269.3 L341.1,267.3 L341.7,266.4 L342.4,266.0 L343.0,264.4 L343.6,263.9 L344.3,264.4 L345.0,263.7 L345.6,262.6 L346.2,262.1 L346.9,262.0 L347.5,261.8 L348.2,262.3 L348.8,261.7 L349.4,261.9 L350.1,261.7 L350.7,261.8 L351.4,260.5 L352.0,261.2 L352.6,262.6 L353.3,263.2 L354.0,262.7 L354.6,263.7 L355.2,264.7 L355.9,264.9 L356.5,265.8 L357.1,265.7 L357.7,265.9 L358.4,265.6 L359.0,264.4 L359.7,264.2 L360.3,265.2 L360.9,265.0 L361.6,265.4 L362.2,265.0 L362.9,265.5 L363.5,265.7 L364.1,265.9 L364.8,264.8 L365.4,266.0 L366.1,265.6 L366.8,266.5 L367.4,266.0 L368.0,266.7 L368.7,267.6 L369.3,267.3 L370.0,267.0 L370.6,267.6 L371.2,266.7 L371.9,266.7 L372.5,264.9 L373.1,264.1 L373.8,262.5 L374.4,259.5 L375.1,258.2 L375.7,257.7 L376.4,255.9 L377.0,254.4 L377.6,254.1 L378.3,253.6 L378.9,252.3 L379.6,251.6 L380.2,251.0 L380.8,251.0 L381.5,251.0 L382.1,250.5 L382.8,250.2 L383.4,249.7 L384.0,249.3 L384.7,248.7 L385.4,247.2 L386.0,246.0 L386.6,246.6 L387.2,246.4 L387.9,247.7 L388.5,247.7 L389.1,248.3 L389.8,248.7 L390.5,248.9 L391.1,249.0 L391.7,248.3 L392.4,247.7 L393.0,247.6 L393.7,246.9 L394.3,246.6 L394.9,246.0 L395.6,246.8 L396.2,247.9 L396.9,247.1 L397.5,247.9 L398.2,247.5 L398.9,246.9 L399.6,247.7 L400.2,246.3 L400.9,246.8 L401.6,245.6 L402.3,245.3 L403.0,246.6 L403.7,245.8 L404.3,245.1 L405.0,245.6 L405.7,245.6 L406.4,246.0 L407.1,244.7 L407.8,244.7 L408.5,245.6 L409.1,245.1 L409.8,243.9 L410.5,244.0 L411.2,243.8 L412.0,245.3 L412.8,246.3 L413.6,247.8 L414.4,249.0 L415.2,249.9 L416.0,251.6 L416.7,252.1 L417.4,252.7 L418.1,252.8 L418.7,252.5 L419.4,251.5 L420.0,251.1 L420.8,247.9 L421.6,247.3 L422.4,244.0 L423.0,245.0 L423.7,244.4 L424.3,244.0 L425.0,244.5 L425.6,243.6 L426.3,243.4 L426.9,244.0 L427.6,244.1 L428.3,243.7 L428.9,243.3 L429.6,243.4 L430.3,243.3 L431.1,243.6 L431.8,242.8 L432.5,242.8 L433.3,242.9 L434.0,242.5 L434.7,242.5 L435.4,243.2 L436.1,243.4 L436.8,242.8 L437.5,242.8 L438.2,242.4 L438.9,242.6 L439.6,242.4 L440.3,243.3 L441.0,243.5 L441.7,242.8 L442.4,244.3 L443.1,243.5 L443.8,244.5 L444.5,244.7 L445.2,245.0 L445.9,244.1 L446.6,244.6 L447.3,245.6 L447.9,244.4 L448.6,244.7 L449.3,245.8 L450.0,245.9 L450.7,246.8 L451.3,246.7 L452.0,246.5 L452.7,247.4 L453.3,246.8 L454.0,247.0 L454.7,247.1 L455.3,246.5 L456.0,246.2 L456.7,246.4 L457.3,245.8 L458.0,246.6 L458.8,245.7 L459.6,244.9 L460.3,244.9 L461.0,244.9 L461.7,244.9 L462.4,244.9 L463.1,244.9 L463.8,244.9 L464.6,244.9 L465.3,244.9 L466.0,244.9 L466.7,244.9 L467.4,244.9 L468.1,244.9 L468.8,244.9 L469.5,244.9 L470.2,244.9 L470.9,244.9 L471.6,244.9 L472.3,244.9 L473.0,244.9 L473.8,244.9 L474.5,244.9 L475.2,244.9 L475.9,244.9 L476.6,244.9 L477.3,244.9 L478.0,244.9 L478.7,243.4 L479.4,242.9 L480.2,242.1 L480.9,241.5 L481.5,243.1 L482.2,245.2 L482.8,246.9 L483.4,246.4 L484.1,246.6 L484.7,247.2 L485.4,248.0 L486.0,247.2 L486.7,247.3 L487.3,247.5 L488.0,246.2 L488.7,246.1 L489.3,246.9 L490.0,246.4 L490.7,245.3 L491.3,244.0 L492.0,244.7 L492.7,243.7 L493.3,243.3 L494.0,243.0 L494.6,242.2 L495.3,240.8 L495.9,239.7 L496.6,239.3 L497.2,239.0 L498.0,238.3 L498.8,237.1 L499.6,236.4 L500.3,238.0 L500.9,238.9 L501.6,239.4 L502.2,241.4 L502.9,241.7 L503.6,241.7 L504.2,243.3 L504.9,244.8 L505.5,245.0 L506.2,246.6 L506.9,245.5 L507.5,246.0 L508.2,246.8 L508.9,246.4 L509.5,246.6 L510.2,245.8 L510.8,246.3 L511.5,246.4 L512.3,245.3 L513.1,245.3 L513.9,244.5 L514.6,245.2 L515.2,244.5 L515.9,244.3 L516.5,243.8 L517.2,243.9 L517.9,244.8 L518.5,243.8 L519.2,243.8 L519.9,244.6 L520.6,246.0 L521.2,247.2 L521.9,247.6 L522.6,248.7 L523.2,247.7 L523.9,247.8 L524.5,249.1 L525.3,249.7 L526.1,251.6 L526.9,252.4 L527.6,252.7 L528.3,253.4 L529.1,253.8 L529.8,255.6 L530.5,255.1 L531.2,254.8 L531.9,254.9 L532.6,254.8 L533.4,255.2 L534.1,257.5 L534.8,255.8 L535.5,254.5" fill="none" stroke="#00ff00" stroke-width="2.5" stroke-linejoin="round" stroke-linecap="butt"/><rect x="458" y="241" width="21" height="3" fill="#00c8ff"/><rect x="458" y="244" width="21" height="3" fill="#00ff00"/></svg>
<span class="t" style="left:186px;top:4.2px;font-size:18.6px">24 Hour Spot Gold (Bid)</span>
<span class="t" style="left:65px;top:38.3px;font-size:18.6px">www.kitco.com</span>
<span class="m" style="left:16.6px;top:6px">USD/oz</span>
<span class="m" style="left:16.6px;top:20px">1950.0</span>
<span class="m" style="left:16.6px;top:69px">1940.0</span>
<span class="m" style="left:16.6px;top:119px">1930.0</span>
<span class="m" style="left:16.6px;top:168px">1920.0</span>
<span class="m" style="left:16.6px;top:217px">1910.0</span>
<span class="m" style="left:16.6px;top:266px">1900.0</span>
<span class="m" style="left:16.6px;top:316px">1890.0</span>
<span class="m" style="left:16.6px;top:365px">1880.0</span>
<span class="m" style="left:452px;top:13px">October 22, 2020 20:29</span>
<span class="m" style="left:449px;top:27px;color:#00c8ff">Oct 20 NY close 1905.80</span>
<span class="m" style="left:449px;top:39px;color:#ff0000">Oct 21 NY close 1924.30</span>
<span class="m" style="left:449px;top:52px;color:#00ff00">Oct 22 Last 1903.60</span>
<span style="left:439px;top:30px;width:6px;height:2px;background:#00c8ff"></span>
<span style="left:439px;top:42.6px;width:6px;height:2px;background:#ff0000"></span>
<span style="left:439px;top:56.5px;width:6px;height:2px;background:#00ff00"></span>
<span class="m" style="left:45px;top:376px">00:00</span>
<span class="g" style="left:45px;top:390px">04:00</span>
<span class="m" style="left:137px;top:376px">04:00</span>
<span class="g" style="left:137px;top:390px">08:00</span>
<span class="m" style="left:230px;top:376px">08:00</span>
<span class="g" style="left:230px;top:390px">12:00</span>
<span class="m" style="left:322px;top:376px">12:00</span>
<span class="g" style="left:322px;top:390px">16:00</span>
<span class="m" style="left:414px;top:376px">16:00</span>
<span class="g" style="left:414px;top:390px">20:00</span>
<span class="m" style="left:506px;top:376px">20:00</span>
<span class="g" style="left:506px;top:390px">00:00</span>
<span class="m" style="left:586px;top:376px">23:59</span>
<span class="g" style="left:586px;top:390px">03:59</span>
<span class="s" style="left:-1px;top:377px">NY Time</span>
<span class="s" style="left:7px;top:389px">GMT</span>
<span class="k" style="left:85px;top:332px">Hong Kong</span>
<span class="k" style="left:102px;top:358px">New York Globex</span>
<span class="k" style="left:210px;top:345px">London</span>
<span class="k" style="left:272px;top:358px">New York NYMEX</span>
<span class="k" style="left:386px;top:358px">NY Globex</span>
<span class="k" style="left:501px;top:358px">New York Globex</span>
<span class="k" style="left:528px;top:345px">Sydney</span>
<span class="k" style="left:544px;top:332px">Hong Kong</span>
</div></body></html>
